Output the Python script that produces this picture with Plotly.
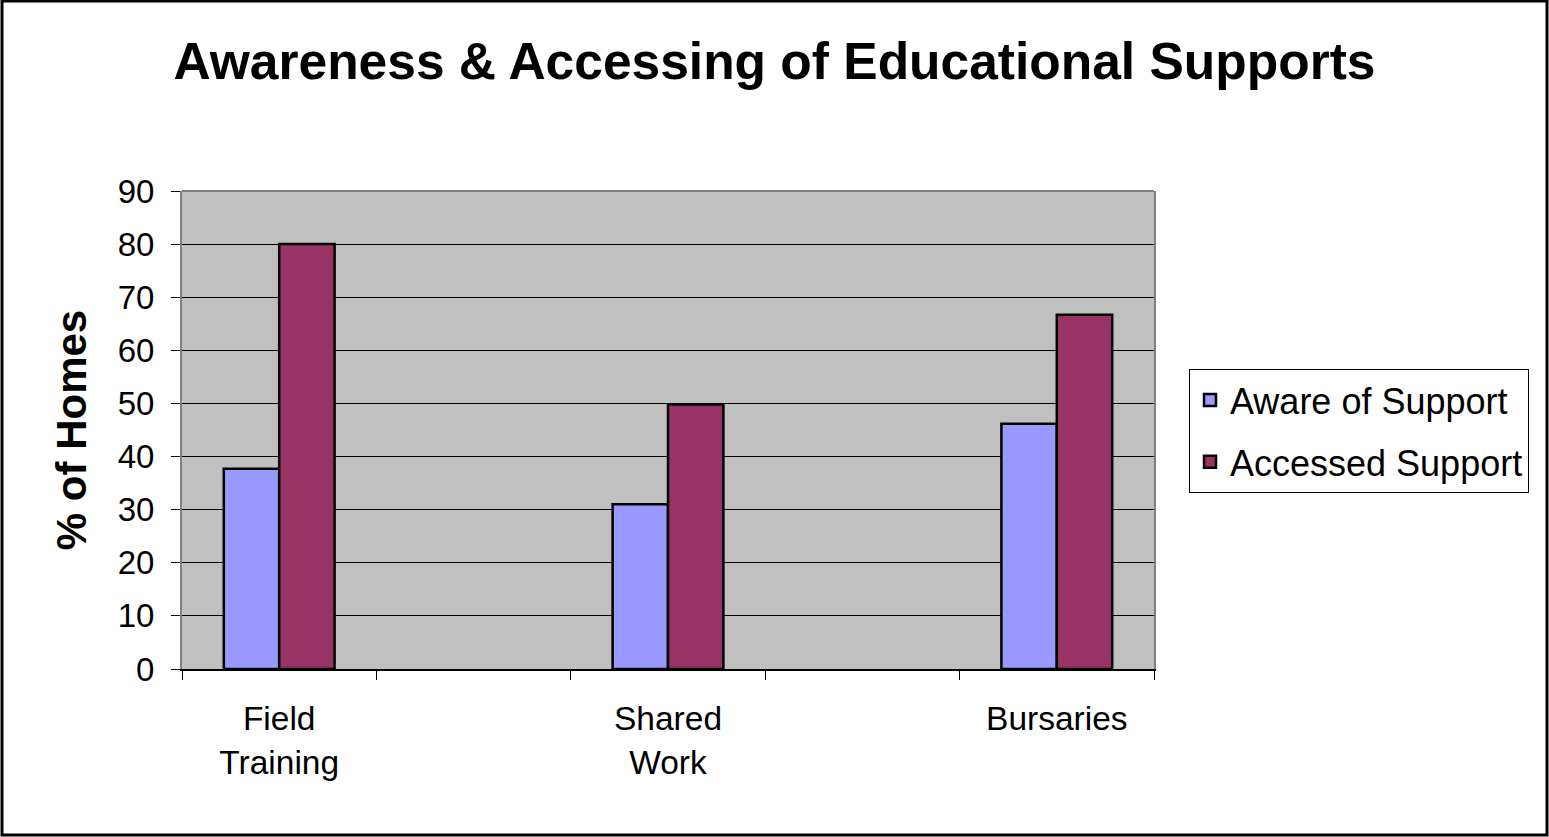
import plotly.graph_objects as go

# ---- data ----
categories = ["Field<br>Training", " ", "Shared<br>Work", "  ", "Bursaries"]
aware = [37.7, None, 31, None, 46.2]
accessed = [80, None, 49.8, None, 66.7]
series_names = ["Aware of Support", "Accessed Support"]
y_ticks = [0, 10, 20, 30, 40, 50, 60, 70, 80, 90]

W, H = 1549, 837
L, R, T, B = 182, W - 1154, 191, H - 669
pw, ph = W - L - R, H - T - B

FONT = "Liberation Sans, Arial, sans-serif"

fig = go.Figure()
fig.add_trace(go.Bar(
    x=categories, y=aware, name=series_names[0], legendgroup="a",
    marker=dict(color="#9999FF", line=dict(color="black", width=2.5)),
))
fig.add_trace(go.Bar(
    x=categories, y=accessed, name=series_names[1], legendgroup="b",
    marker=dict(color="#993366", line=dict(color="black", width=2.5)),
))

fig.update_layout(
    width=W, height=H,
    margin=dict(l=L, r=R, t=T, b=B, autoexpand=False),
    paper_bgcolor="white",
    plot_bgcolor="#C0C0C0",
    barmode="group",
    bargap=0.43,
    bargroupgap=0,
    font=dict(family=FONT, color="black", size=33),
    title=dict(
        text="<b>Awareness &amp; Accessing of Educational Supports</b>",
        x=0.5, xanchor="center", xref="container",
        y=1 - 61 / H, yanchor="middle", yref="container",
        font=dict(family=FONT, size=51.5, color="black"),
    ),
    showlegend=True,
    legend=dict(
        x=(1189 - L) / pw, y=(669 - 369) / ph,
        xanchor="left", yanchor="top",
        bordercolor="black", borderwidth=1,
        bgcolor="white",
        font=dict(family=FONT, size=36, color="black"),
        traceorder="grouped",
        tracegroupgap=12,
        itemwidth=30,
    ),
    xaxis=dict(
        type="category",
        categoryorder="array", categoryarray=categories,
        tickson="boundaries",
        ticks="outside", ticklen=9, tickwidth=1, tickcolor="black",
        showline=True, linecolor="black", linewidth=2,
        showgrid=False,
        ticklabelstandoff=19,
        tickfont=dict(family=FONT, size=33.5, color="black"),
    ),
    yaxis=dict(
        range=[0, 90],
        tickvals=y_ticks,
        ticks="outside", ticklen=9, tickwidth=1, tickcolor="black",
        showline=True, linecolor="#808080", linewidth=2, mirror=True,
        showgrid=True, gridcolor="black", gridwidth=1,
        zeroline=False,
        ticklabelstandoff=10,
        tickfont=dict(family=FONT, size=33, color="black"),
        title=dict(text="<b>% of Homes</b>", standoff=18,
                   font=dict(family=FONT, size=42, color="black")),
    ),
)

# grey top border of plot area
fig.add_shape(type="line", xref="paper", yref="paper", x0=0, x1=1, y0=1, y1=1,
              line=dict(color="#808080", width=2))
# outer frame of the chart
fig.add_shape(type="rect", xref="paper", yref="paper",
              x0=(2 - L) / pw, x1=(1547 - L) / pw,
              y0=(669 - 835) / ph, y1=(669 - 1) / ph,
              line=dict(color="black", width=3), fillcolor="rgba(0,0,0,0)")

fig.write_html(
    "out.html",
    config={"displayModeBar": False},
    post_script="document.body.style.margin='0';document.body.style.overflow='hidden';",
)
